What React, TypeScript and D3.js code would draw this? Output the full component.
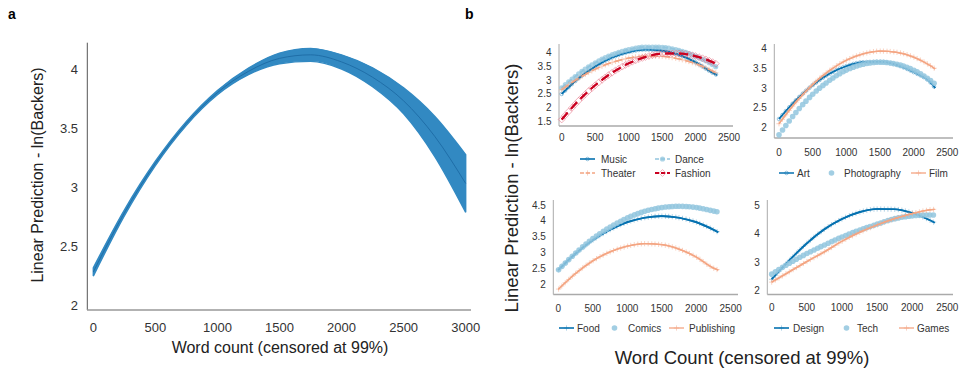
import React, { useRef, useEffect } from 'react';
import * as d3 from 'd3';

// panel a: overall prediction with confidence band
const WORDS_A = [0, 250, 500, 750, 1000, 1250, 1500, 1750, 2000, 2250, 2500, 2750, 3000];
const PRED_A = [2.28, 2.78, 3.2, 3.54, 3.8, 3.98, 4.09, 4.12, 4.06, 3.93, 3.73, 3.43, 3.03];
const LOWER_A = [2.245, 2.755, 3.182, 3.524, 3.782, 3.952, 4.045, 4.065, 4.0, 3.85, 3.62, 3.26, 2.785];
const UPPER_A = [2.315, 2.805, 3.218, 3.556, 3.818, 4.008, 4.135, 4.175, 4.12, 4.01, 3.84, 3.6, 3.275];
const X_TICKS_A = [0, 500, 1000, 1500, 2000, 2500, 3000];
const Y_TICKS_A = [2, 2.5, 3, 3.5, 4];

// panel b: by category
const WORDS_B = [0, 250, 500, 750, 1000, 1250, 1500, 1750, 2000, 2250, 2320];
const MUSIC = [2.5, 3.06, 3.49, 3.81, 4.01, 4.1, 4.06, 3.91, 3.64, 3.27, 3.18];
const DANCE = [2.72, 3.22, 3.62, 3.91, 4.1, 4.19, 4.18, 4.07, 3.86, 3.56, 3.45];
const THEATER = [2.65, 3.06, 3.39, 3.63, 3.79, 3.86, 3.85, 3.76, 3.59, 3.33, 3.24];
const FASHION = [1.58, 2.25, 2.81, 3.26, 3.6, 3.83, 3.95, 3.96, 3.86, 3.65, 3.57];
const ART = [2.22, 2.69, 3.07, 3.36, 3.55, 3.65, 3.66, 3.58, 3.4, 3.14, 3.0];
const PHOTOGRAPHY = [1.82, 2.38, 2.84, 3.19, 3.45, 3.6, 3.65, 3.6, 3.45, 3.19, 3.1];
const FILM = [2.1, 2.64, 3.09, 3.44, 3.7, 3.86, 3.93, 3.9, 3.78, 3.56, 3.48];
const FOOD = [2.45, 2.97, 3.39, 3.72, 3.96, 4.1, 4.15, 4.1, 3.96, 3.72, 3.64];
const COMICS = [2.45, 2.98, 3.44, 3.8, 4.09, 4.3, 4.42, 4.46, 4.42, 4.31, 4.28];
const PUBLISHING = [1.84, 2.34, 2.74, 3.02, 3.2, 3.28, 3.25, 3.11, 2.86, 2.51, 2.45];
const DESIGN = [2.4, 3.06, 3.66, 4.15, 4.51, 4.75, 4.86, 4.85, 4.72, 4.47, 4.38];
const TECH = [2.58, 2.96, 3.3, 3.6, 3.88, 4.12, 4.33, 4.52, 4.62, 4.65, 4.65];
const GAMES = [2.3, 2.66, 3.02, 3.36, 3.73, 4.04, 4.3, 4.52, 4.7, 4.83, 4.85];
const X_TICKS_B = [0, 500, 1000, 1500, 2000, 2500];

const DARK = '#0571b0';
const LIGHT = '#92c5de';
const SALMON = '#f4a582';
const RED = '#ca0020';

const FONT = '"Liberation Sans", Arial, sans-serif';

type Style = { color: string; dash?: string; width: number; marker: string; line: boolean };
const STYLES: Record<string, Style> = {
  Music: { color: DARK, width: 1.6, marker: 'circleOpen', line: true },
  Dance: { color: LIGHT, dash: '5,3', width: 1.6, marker: 'circleFill', line: true },
  Theater: { color: SALMON, dash: '8,4', width: 1.3, marker: 'plus', line: true },
  Fashion: { color: RED, dash: '9,5', width: 2, marker: 'diamond', line: true },
  Art: { color: DARK, width: 1.5, marker: 'circleOpen', line: true },
  Photography: { color: LIGHT, width: 0, marker: 'circleBig', line: false },
  Film: { color: SALMON, width: 1.3, marker: 'plus', line: true },
  Food: { color: DARK, width: 1.6, marker: 'plusDark', line: true },
  Comics: { color: LIGHT, width: 0, marker: 'circleBig', line: false },
  Publishing: { color: SALMON, width: 1.3, marker: 'plus', line: true },
  Design: { color: DARK, width: 1.6, marker: 'plusDark', line: true },
  Tech: { color: LIGHT, width: 0, marker: 'circleBig', line: false },
  Games: { color: SALMON, width: 1.3, marker: 'plus', line: true },
};

const SUBPLOTS = [
  {
    series: [['Music', MUSIC], ['Dance', DANCE], ['Theater', THEATER], ['Fashion', FASHION]],
    yTicks: [1.5, 2, 2.5, 3, 3.5, 4],
    axisX: 559, top: 44, bottom: 126, right: 733,
    xr: [561.7, 729], yd: [1.5, 4], yr: [121.7, 52.3], xLab: 141,
    legend: [
      ['Music', 580, 601, 159], ['Dance', 655, 675, 159],
      ['Theater', 580, 601, 173], ['Fashion', 655, 675, 173],
    ],
  },
  {
    series: [['Art', ART], ['Photography', PHOTOGRAPHY], ['Film', FILM]],
    yTicks: [2, 2.5, 3, 3.5, 4],
    axisX: 774.3, top: 44, bottom: 138, right: 953,
    xr: [779, 947.3], yd: [2, 4], yr: [127.7, 48.3], xLab: 156,
    legend: [['Art', 779, 797, 173], ['Photography', 824, 844, 173], ['Film', 911, 929, 173]],
  },
  {
    series: [['Food', FOOD], ['Comics', COMICS], ['Publishing', PUBLISHING]],
    yTicks: [2, 2.5, 3, 3.5, 4, 4.5],
    axisX: 553.3, top: 200, bottom: 294.5, right: 738,
    xr: [558.3, 730.7], yd: [2, 4.5], yr: [284.3, 205], xLab: 312,
    legend: [['Food', 559, 577, 328], ['Comics', 607, 628, 328], ['Publishing', 669, 689, 328]],
  },
  {
    series: [['Design', DESIGN], ['Tech', TECH], ['Games', GAMES]],
    yTicks: [2, 3, 4, 5],
    axisX: 767.3, top: 200, bottom: 294.5, right: 953,
    xr: [771.7, 947.3], yd: [2, 5], yr: [290.7, 205], xLab: 311,
    legend: [['Design', 774, 793, 328], ['Tech', 839, 857, 328], ['Games', 899, 917, 328]],
  },
];

function drawMarker(g: any, type: string, x: number, y: number, color: string) {
  if (type === 'circleOpen') {
    g.append('circle').attr('cx', x).attr('cy', y).attr('r', 1.8)
      .attr('fill', 'none').attr('stroke', color).attr('stroke-width', 0.7).attr('opacity', 0.55);
  } else if (type === 'circleFill') {
    g.append('circle').attr('cx', x).attr('cy', y).attr('r', 2.6)
      .attr('fill', color).attr('opacity', 0.75);
  } else if (type === 'circleBig') {
    g.append('circle').attr('cx', x).attr('cy', y).attr('r', 2.8)
      .attr('fill', color).attr('opacity', 0.85);
  } else if (type === 'plus' || type === 'plusDark') {
    const s = 2.6;
    g.append('path').attr('d', `M${x - s},${y}H${x + s}M${x},${y - s}V${y + s}`)
      .attr('stroke', color).attr('stroke-width', 0.7)
      .attr('opacity', type === 'plus' ? 0.7 : 0.45);
  } else if (type === 'diamond') {
    const s = 3.4;
    g.append('path').attr('d', `M${x},${y - s}L${x + s},${y}L${x},${y + s}L${x - s},${y}Z`)
      .attr('fill', 'none').attr('stroke', '#e7798c').attr('stroke-width', 0.8).attr('opacity', 0.75);
  }
}

const App = () => {
  const svgRef = useRef<SVGSVGElement>(null);

  useEffect(() => {
    const svg = d3.select(svgRef.current);
    svg.selectAll('*').remove();

    // ---- panel a ----
    const xA = d3.scaleLinear().domain([0, 3000]).range([93.3, 465.7]);
    const yA = d3.scaleLinear().domain([2, 4]).range([305, 69]);
    const ga = svg.append('g');

    const band = d3.area<number>()
      .x((d, i) => xA(WORDS_A[i]))
      .y0((d, i) => yA(LOWER_A[i]))
      .y1((d, i) => yA(UPPER_A[i]))
      .curve(d3.curveMonotoneX);
    ga.append('path').attr('d', band(PRED_A)).attr('fill', '#3289c2').attr('stroke', '#3289c2').attr('stroke-width', 1.4);
    const lineA = d3.line<number>().x((d, i) => xA(WORDS_A[i])).y(d => yA(d)).curve(d3.curveMonotoneX);
    ga.append('path').attr('d', lineA(PRED_A)).attr('fill', 'none').attr('stroke', '#1f6ea8').attr('stroke-width', 1);

    ga.append('line').attr('x1', 87.3).attr('x2', 87.3).attr('y1', 42.7).attr('y2', 310)
      .attr('stroke', '#555').attr('stroke-width', 1);
    ga.append('line').attr('x1', 87).attr('x2', 471).attr('y1', 310).attr('y2', 310)
      .attr('stroke', '#999').attr('stroke-width', 1.6);
    ga.selectAll('.xta').data(X_TICKS_A).join('text')
      .attr('x', d => xA(d)).attr('y', 332).attr('text-anchor', 'middle')
      .attr('font-size', 13).attr('fill', '#333').text(d => d);
    ga.selectAll('.yta').data(Y_TICKS_A).join('text')
      .attr('x', 78).attr('y', d => yA(d)).attr('text-anchor', 'end').attr('dy', '0.35em')
      .attr('font-size', 13).attr('fill', '#333').text(d => d);
    ga.append('text').attr('x', 280).attr('y', 353).attr('text-anchor', 'middle')
      .attr('font-size', 16).attr('fill', '#222').text('Word count (censored at 99%)');
    ga.append('text').attr('transform', 'translate(43,175) rotate(-90)').attr('text-anchor', 'middle')
      .attr('font-size', 16).attr('fill', '#222').text('Linear Prediction - ln(Backers)');

    svg.append('text').attr('x', 8).attr('y', 19).attr('font-size', 14).attr('font-weight', 'bold').text('a');
    svg.append('text').attr('x', 465).attr('y', 19).attr('font-size', 14).attr('font-weight', 'bold').text('b');

    // ---- panel b ----
    SUBPLOTS.forEach(sp => {
      const g = svg.append('g');
      const x = d3.scaleLinear().domain([0, 2500]).range(sp.xr as [number, number]);
      const y = d3.scaleLinear().domain(sp.yd as [number, number]).range(sp.yr as [number, number]);

      g.append('line').attr('x1', sp.axisX).attr('x2', sp.axisX).attr('y1', sp.top).attr('y2', sp.bottom)
        .attr('stroke', '#aaa').attr('stroke-width', 1);
      g.append('line').attr('x1', sp.axisX).attr('x2', sp.right).attr('y1', sp.bottom).attr('y2', sp.bottom)
        .attr('stroke', '#aaa').attr('stroke-width', 1.6);
      g.selectAll('.xt').data(X_TICKS_B).join('text')
        .attr('x', d => x(d)).attr('y', sp.xLab).attr('text-anchor', 'middle')
        .attr('font-size', 10).attr('fill', '#333').text(d => d);
      g.selectAll('.yt').data(sp.yTicks).join('text')
        .attr('x', sp.axisX - 7.5).attr('y', d => y(d)).attr('dy', '0.35em').attr('text-anchor', 'end')
        .attr('font-size', 10).attr('fill', '#333').text(d => d);

      const line = d3.line<number>().x((d, i) => x(WORDS_B[i])).y(d => y(d)).curve(d3.curveMonotoneX);

      sp.series.forEach(([name, vals]: any) => {
        const st = STYLES[name];
        const path = g.append('path').attr('d', line(vals)).attr('fill', 'none')
          .attr('stroke', st.line ? st.color : 'none').attr('stroke-width', st.width)
          .attr('stroke-dasharray', st.dash || null);
        // markers every 50 words along the drawn curve
        const node = path.node() as SVGPathElement;
        const total = node.getTotalLength();
        const pts: { x: number; y: number }[] = [];
        for (let l = 0; l <= total; l += 0.4) {
          const p = node.getPointAtLength(l);
          pts.push({ x: p.x, y: p.y });
        }
        const bis = d3.bisector((p: { x: number }) => p.x).left;
        const mg = g.append('g');
        const last = WORDS_B[WORDS_B.length - 1];
        for (let w = 0; w <= last; w += 50) {
          const i = Math.min(bis(pts, x(w)), pts.length - 1);
          drawMarker(mg, st.marker, pts[i].x, pts[i].y, st.color);
        }
        // redraw line on top of markers
        if (st.line) {
          g.append('path').attr('d', line(vals)).attr('fill', 'none')
            .attr('stroke', st.color).attr('stroke-width', st.width)
            .attr('stroke-dasharray', st.dash || null);
        }
      });

      sp.legend.forEach(([name, sx, tx, ly]: any) => {
        const st = STYLES[name];
        if (st.line) {
          g.append('line').attr('x1', sx).attr('x2', sx + 15).attr('y1', ly).attr('y2', ly)
            .attr('stroke', st.color).attr('stroke-width', st.width)
            .attr('stroke-dasharray', st.dash ? '4,2' : null);
        }
        drawMarker(g, st.marker, sx + 7.5, ly, st.color);
        g.append('text').attr('x', tx).attr('y', ly).attr('dy', '0.35em')
          .attr('font-size', 10).attr('fill', '#333').text(name);
      });
    });

    svg.append('text').attr('x', 742).attr('y', 364).attr('text-anchor', 'middle')
      .attr('font-size', 18.5).attr('fill', '#222').text('Word Count (censored at 99%)');
    svg.append('text').attr('transform', 'translate(518,188) rotate(-90)').attr('text-anchor', 'middle')
      .attr('font-size', 18.5).attr('fill', '#222').text('Linear Prediction - ln(Backers)');
  }, []);

  return (
    <svg ref={svgRef} width={968} height={376}
      style={{ position: 'absolute', left: 0, top: 0, background: '#fff', fontFamily: FONT }} />
  );
};

export default App;
